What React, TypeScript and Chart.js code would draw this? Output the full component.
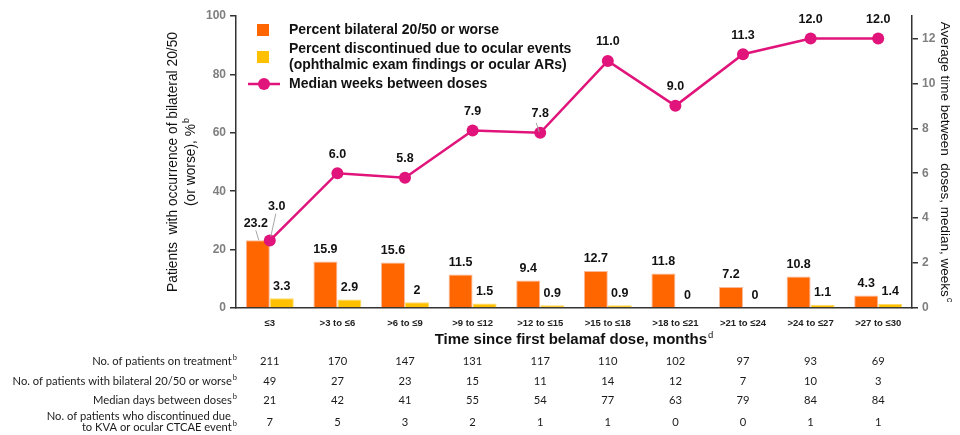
import { useEffect, useRef } from 'react';
import { Chart, registerables } from 'chart.js';

Chart.register(...registerables);

const categories = ['≤3', '>3 to ≤6', '>6 to ≤9', '>9 to ≤12', '>12 to ≤15', '>15 to ≤18', '>18 to ≤21', '>21 to ≤24', '>24 to ≤27', '>27 to ≤30'];
const bilateralPct = [23.2, 15.9, 15.6, 11.5, 9.4, 12.7, 11.8, 7.2, 10.8, 4.3];
const discontinuedPct = [3.3, 2.9, 2, 1.5, 0.9, 0.9, 0, 0, 1.1, 1.4];
const medianWeeks = [3.0, 6.0, 5.8, 7.9, 7.8, 11.0, 9.0, 11.3, 12.0, 12.0];

const patientsOnTreatment = [211, 170, 147, 131, 117, 110, 102, 97, 93, 69];
const patientsBilateral = [49, 27, 23, 15, 11, 14, 12, 7, 10, 3];
const medianDaysBetween = [21, 42, 41, 55, 54, 77, 63, 79, 84, 84];
const patientsDiscontinued = [7, 5, 3, 2, 1, 1, 0, 0, 1, 1];

const ORANGE = '#FF6600';
const YELLOW = '#FFC000';
const MAGENTA = '#E0147A';
const ARIAL = "'Liberation Sans', Arial, sans-serif";
const TABLE_FONT = "Lato, 'Open Sans', sans-serif";

function drawSup(
  ctx: CanvasRenderingContext2D,
  text: string,
  sup: string,
  x: number,
  y: number,
  align: 'left' | 'right' | 'center',
  font: string,
  supFont: string,
  supRise: number
) {
  ctx.font = font;
  const w = ctx.measureText(text).width;
  ctx.font = supFont;
  const sw = sup ? ctx.measureText(sup).width + 1 : 0;
  const total = w + sw;
  let start = x;
  if (align === 'right') start = x - total;
  else if (align === 'center') start = x - total / 2;
  ctx.textAlign = 'left';
  ctx.textBaseline = 'middle';
  ctx.font = font;
  ctx.fillText(text, start, y);
  if (sup) {
    ctx.font = supFont;
    ctx.fillText(sup, start + w + 1, y - supRise);
  }
}

const overlayPlugin = {
  id: 'overlay',
  afterDatasetsDraw(chart: any) {
    const ctx: CanvasRenderingContext2D = chart.ctx;
    ctx.save();
    ctx.fillStyle = '#111';
    ctx.font = `bold 12.5px ${ARIAL}`;
    ctx.textAlign = 'center';
    ctx.textBaseline = 'middle';
    const metaO = chart.getDatasetMeta(0);
    const metaY = chart.getDatasetMeta(1);
    const metaL = chart.getDatasetMeta(2);
    const leader = (x1: number, y1: number, x2: number, y2: number) => {
      ctx.save();
      ctx.strokeStyle = '#A6A6A6';
      ctx.lineWidth = 1;
      ctx.beginPath();
      ctx.moveTo(x1, y1);
      ctx.lineTo(x2, y2);
      ctx.stroke();
      ctx.restore();
    };
    metaO.data.forEach((el: any, i: number) => {
      let lx = el.x;
      let ly = el.y - 12;
      if (i === 0) {
        lx = el.x - 2;
        ly = el.y - 17;
        leader(el.x - 2, el.y - 10, el.x + 1, el.y);
      }
      ctx.fillText(String(bilateralPct[i]), lx, ly);
    });
    metaY.data.forEach((el: any, i: number) => {
      ctx.fillText(String(discontinuedPct[i]), el.x, el.y - 12);
    });
    metaL.data.forEach((el: any, i: number) => {
      let lx = el.x;
      let ly = el.y - 19;
      if (i === 0) {
        lx = el.x + 7;
        ly = el.y - 34;
        leader(el.x + 6, el.y - 27, el.x + 1, el.y - 4);
      }
      if (i === 4) {
        leader(el.x - 4, el.y - 10, el.x - 1, el.y - 1);
      }
      ctx.fillStyle = '#111';
      ctx.font = `bold 12.5px ${ARIAL}`;
      ctx.textAlign = 'center';
      ctx.textBaseline = 'middle';
      ctx.fillText(medianWeeks[i].toFixed(1), lx, ly);
    });
    ctx.restore();
  },
  afterDraw(chart: any) {
    const ctx: CanvasRenderingContext2D = chart.ctx;
    const area = chart.chartArea;
    ctx.save();
    // legend
    const lf = `bold 14px ${ARIAL}`;
    ctx.fillStyle = ORANGE;
    ctx.fillRect(257, 24, 12, 12);
    ctx.fillStyle = YELLOW;
    ctx.fillRect(257, 51, 12, 12);
    ctx.strokeStyle = MAGENTA;
    ctx.lineWidth = 2.5;
    ctx.beginPath();
    ctx.moveTo(248, 84);
    ctx.lineTo(280, 84);
    ctx.stroke();
    ctx.fillStyle = MAGENTA;
    ctx.beginPath();
    ctx.arc(264, 84, 6, 0, Math.PI * 2);
    ctx.fill();
    ctx.fillStyle = '#111';
    ctx.font = lf;
    ctx.textAlign = 'left';
    ctx.textBaseline = 'middle';
    ctx.fillText('Percent bilateral 20/50 or worse', 289, 30);
    ctx.fillText('Percent discontinued due to ocular events', 289, 49);
    ctx.fillText('(ophthalmic exam findings or ocular ARs)', 289, 65);
    ctx.fillText('Median weeks between doses', 289, 84);

    // axis titles
    const leftTitleFont = `13.8px ${ARIAL}`;
    const rightTitleFont = `13.5px ${ARIAL}`;
    const supFont = `9px ${ARIAL}`;
    ctx.fillStyle = '#111';
    const midY = (area.top + area.bottom) / 2;
    ctx.save();
    ctx.translate(173, midY);
    ctx.rotate(-Math.PI / 2);
    drawSup(ctx, 'Patients  with occurrence of bilateral 20/50', '', 0, 0, 'center', leftTitleFont, supFont, 4);
    ctx.restore();
    ctx.save();
    ctx.translate(191, midY);
    ctx.rotate(-Math.PI / 2);
    drawSup(ctx, '(or worse), %', 'b', 0, 0, 'center', leftTitleFont, supFont, 4);
    ctx.restore();
    ctx.save();
    ctx.translate(945, midY);
    ctx.rotate(Math.PI / 2);
    drawSup(ctx, 'Average time between  doses, median, weeks', 'c', 0, 0, 'center', rightTitleFont, supFont, 4);
    ctx.restore();

    drawSup(ctx, 'Time since first belamaf dose, months', 'd', (area.left + area.right) / 2, 340, 'center', `bold 15px ${ARIAL}`, `9.5px ${ARIAL}`, 5);

    // table
    const xs = chart.scales.x;
    const tf = `11.2px ${TABLE_FONT}`;
    const tsf = `7.5px ${TABLE_FONT}`;
    const labelRight = 237;
    ctx.fillStyle = '#1a1a1a';
    const rows: { labels: string[]; vals: number[]; y: number; ly: number[] }[] = [
      { labels: ['No. of patients on treatment'], vals: patientsOnTreatment, y: 361, ly: [361] },
      { labels: ['No. of patients with bilateral 20/50 or worse'], vals: patientsBilateral, y: 381, ly: [381] },
      { labels: ['Median days between doses'], vals: medianDaysBetween, y: 400, ly: [400] },
      { labels: ['No. of patients who discontinued due', 'to KVA or ocular CTCAE event'], vals: patientsDiscontinued, y: 422, ly: [416, 427] },
    ];
    rows.forEach((r) => {
      r.labels.forEach((lab, k) => {
        const last = k === r.labels.length - 1;
        if (last) {
          drawSup(ctx, lab, 'b', labelRight, r.ly[k], 'right', tf, tsf, 3);
        } else {
          ctx.font = tf;
          ctx.textAlign = 'right';
          ctx.textBaseline = 'middle';
          ctx.fillText(lab, labelRight - 6, r.ly[k]);
        }
      });
      ctx.font = tf;
      ctx.textAlign = 'center';
      ctx.textBaseline = 'middle';
      r.vals.forEach((v, i) => {
        ctx.fillText(String(v), xs.getPixelForValue(i), r.y);
      });
    });
    ctx.restore();
  },
};

export default function App() {
  const ref = useRef<HTMLCanvasElement | null>(null);
  useEffect(() => {
    document.body.style.margin = '0';
    const canvas = ref.current;
    if (!canvas) return;
    const axisColor = '#333333';
    const tickFont = { family: ARIAL, size: 12, weight: 'bold' as const };
    const chart = new Chart(canvas, {
      type: 'bar',
      data: {
        labels: categories,
        datasets: [
          {
            type: 'bar',
            label: 'Percent bilateral 20/50 or worse',
            data: bilateralPct,
            backgroundColor: ORANGE,
            borderColor: '#F8B99A',
            borderWidth: 1,
            yAxisID: 'y',
            order: 2,
            categoryPercentage: 0.71,
            barPercentage: 1,
          },
          {
            type: 'bar',
            label: 'Percent discontinued due to ocular events',
            data: discontinuedPct,
            backgroundColor: YELLOW,
            borderColor: '#FFD966',
            borderWidth: 1,
            yAxisID: 'y',
            order: 2,
            categoryPercentage: 0.71,
            barPercentage: 1,
          },
          {
            type: 'line',
            label: 'Median weeks between doses',
            data: medianWeeks,
            borderColor: MAGENTA,
            backgroundColor: MAGENTA,
            borderWidth: 2.5,
            pointRadius: 6,
            pointBorderWidth: 0,
            pointBackgroundColor: MAGENTA,
            yAxisID: 'y1',
            order: 0,
            tension: 0,
          } as any,
        ],
      },
      options: {
        animation: false,
        responsive: false,
        maintainAspectRatio: false,
        layout: { padding: { top: 16, left: 0, right: 0, bottom: 0 } },
        plugins: { legend: { display: false }, tooltip: { enabled: false } },
        scales: {
          x: {
            grid: { display: false, drawTicks: false },
            border: { display: true, color: axisColor, width: 1.5 },
            ticks: { color: '#222', font: { family: ARIAL, size: 9.5, weight: 'bold' }, padding: 10, maxRotation: 0, autoSkip: false },
            afterFit: (s: any) => {
              s.height = 127;
            },
          },
          y: {
            position: 'left',
            min: 0,
            max: 100,
            ticks: { stepSize: 20, color: '#7F7F7F', font: tickFont, padding: 4 },
            grid: { drawOnChartArea: false, drawTicks: true, tickLength: 6, color: axisColor, lineWidth: 1.5 },
            border: { display: true, color: axisColor, width: 1.5 },
            afterFit: (s: any) => {
              s.width = 236;
            },
          },
          y1: {
            position: 'right',
            min: 0,
            max: 13,
            ticks: { stepSize: 2, color: '#7F7F7F', font: tickFont, padding: 4 },
            grid: { drawOnChartArea: false, drawTicks: true, tickLength: 6, color: axisColor, lineWidth: 1.5 },
            border: { display: true, color: axisColor, width: 1.5 },
            afterBuildTicks: (s: any) => {
              s.ticks = s.ticks.filter((t: any) => t.value <= 12);
            },
            afterFit: (s: any) => {
              s.width = 48;
            },
          },
        },
      },
      plugins: [overlayPlugin],
    });
    return () => chart.destroy();
  }, []);
  return (
    <div style={{ width: 960, height: 435, background: '#fff' }}>
      <canvas ref={ref} width={960} height={435} style={{ display: 'block', width: 960, height: 435 }} />
    </div>
  );
}
